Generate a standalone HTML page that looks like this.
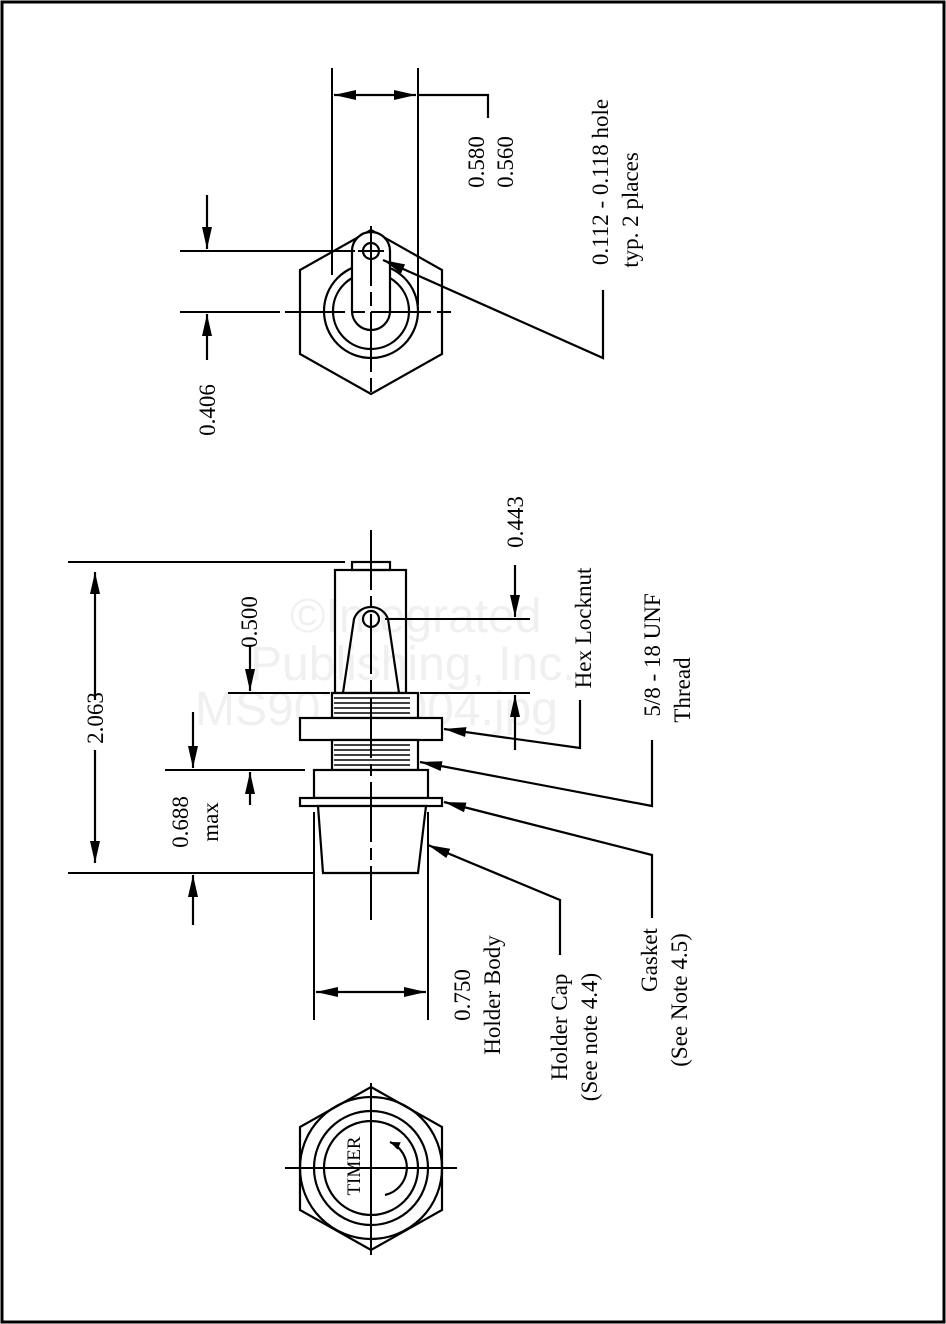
<!DOCTYPE html>
<html><head><style>
html,body{margin:0;padding:0;background:#fff;}
svg{display:block;}
text{font-family:"Liberation Serif",serif;font-size:23px;fill:#000;}
text.wm{font-family:"Liberation Sans",sans-serif;font-size:48px;fill:#f0f0f0;}
</style></head><body>
<svg width="946" height="1324" viewBox="0 0 946 1324" xmlns="http://www.w3.org/2000/svg">
<defs>
<marker id="a" markerWidth="10" markerHeight="8" refX="10" refY="4" orient="auto" markerUnits="userSpaceOnUse">
<path d="M0,0 L10,4 L0,8 z" fill="#000"/></marker>
<marker id="b" markerWidth="22" markerHeight="10" refX="22" refY="5" orient="auto" markerUnits="userSpaceOnUse">
<path d="M0,0 L22,5 L0,10 z" fill="#000"/></marker>
</defs>
<rect x="2" y="2" width="942" height="1320" fill="none" stroke="#000" stroke-width="3"/>
<!-- watermark -->
<text class="wm" x="290" y="632">©Integrated</text>
<text class="wm" x="250" y="680">Publishing, Inc.</text>
<text class="wm" x="195" y="725">MS90730004.jpg</text>
<g stroke="#000" stroke-width="2.2" fill="none">
<rect x="352" y="562" width="38" height="8"/>
<rect x="335" y="570" width="71" height="123"/>
<path d="M343,693 L354,619 A18,18 0 0 1 388,619 L399,693"/>
<circle cx="371" cy="619" r="8"/>
<rect x="332" y="693" width="86" height="25" fill="#fff"/>
<rect x="300" y="718" width="142" height="22" fill="#fff"/>
<rect x="332" y="740" width="86" height="30" fill="#fff"/>
<rect x="314" y="770" width="114" height="28" fill="#fff"/>
<rect x="300" y="798" width="142" height="8" fill="#fff"/>
<path d="M318,806 L426,806 L418,873 L323,873 Z" fill="#fff"/>
</g>
<g stroke="#000" stroke-width="1.5">
<path d="M334,698H410M334,703H410M334,708H410M334,713H410M334,745H410M334,750H410M334,755H410M334,760H410M334,765H410"/>
</g>
<g stroke="#000" stroke-width="2" fill="none">
<path d="M371,530V920" stroke-dasharray="60,6,12,6"/>
<path d="M314,812V1020M428,812V1020"/>
<path d="M68,562H345M68,873H315M228,693H330M165,770H305M160,873H300M385,619H530M420,693H530"/>
</g>
<g stroke="#000" stroke-width="2.2" fill="none">
<path d="M95,700V572" marker-end="url(#b)"/><path d="M95,750V863" marker-end="url(#b)"/>
<path d="M250,645V691" marker-end="url(#b)"/><path d="M250,805V772" marker-end="url(#b)"/>
<path d="M193,712V768" marker-end="url(#b)"/><path d="M193,925V875" marker-end="url(#b)"/>
<path d="M515,565V617" marker-end="url(#b)"/><path d="M515,750V695" marker-end="url(#b)"/>
<path d="M371,992H316" marker-end="url(#b)"/><path d="M371,992H426" marker-end="url(#b)"/>
<path d="M580,700V748L444,729" marker-end="url(#b)"/>
<path d="M652,740V806L420,762" marker-end="url(#b)"/>
<path d="M652,918V855L444,802" marker-end="url(#b)"/>
<path d="M560,955V900L428,845" marker-end="url(#b)"/>
</g>
<!-- top view -->
<g stroke="#000" stroke-width="2.2" fill="none">
<path d="M371,230L442,270V354L371,394L300,354V270Z"/>
<circle cx="371" cy="311" r="47"/><circle cx="371" cy="311" r="38"/>
<rect x="352" y="232" width="38" height="98" rx="19" fill="#fff"/>
<circle cx="371" cy="251" r="8"/>
</g>
<g stroke="#000" stroke-width="2" fill="none">
<path d="M285,312H457M371,226V396M358,251H384" stroke-dasharray="60,6,14,6"/>
<path d="M332,68V275M418,68V305M180,251H355M180,312H280"/>
</g>
<g stroke="#000" stroke-width="2.2" fill="none">
<path d="M375,95H334" marker-end="url(#b)"/><path d="M375,95H416" marker-end="url(#b)"/>
<path d="M418,95H488V118"/>
<path d="M207,195V249" marker-end="url(#b)"/><path d="M207,360V314" marker-end="url(#b)"/>
<path d="M603,290V358L383,260" marker-end="url(#b)"/>
</g>
<!-- bottom view -->
<g stroke="#000" stroke-width="2.2" fill="none">
<path d="M371,1087L442,1127V1210L371,1250L300,1210V1127Z"/>
<circle cx="371" cy="1168" r="71"/><circle cx="371" cy="1168" r="57"/><circle cx="371" cy="1168" r="47"/>
<path d="M385,1195A28,28 0 0 0 390,1142" marker-end="url(#a)"/>
</g>
<g stroke="#000" stroke-width="2" fill="none">
<path d="M285,1168H457M371,1083V1255"/>
</g>
<g text-anchor="middle">
<text transform="translate(103,718) rotate(-90)">2.063</text>
<text transform="translate(257,622) rotate(-90)">0.500</text>
<text transform="translate(188,822) rotate(-90)">0.688</text>
<text transform="translate(218,822) rotate(-90)">max</text>
<text transform="translate(523,522) rotate(-90)">0.443</text>
<text transform="translate(591,628) rotate(-90)">Hex Locknut</text>
<text transform="translate(660,655) rotate(-90)">5/8 - 18 UNF</text>
<text transform="translate(690,690) rotate(-90)">Thread</text>
<text transform="translate(470,995) rotate(-90)">0.750</text>
<text transform="translate(500,995) rotate(-90)">Holder Body</text>
<text transform="translate(567,1027) rotate(-90)">Holder Cap</text>
<text transform="translate(597,1037) rotate(-90)">(See note 4.4)</text>
<text transform="translate(657,960) rotate(-90)">Gasket</text>
<text transform="translate(687,1000) rotate(-90)">(See Note 4.5)</text>
<text transform="translate(484,162) rotate(-90)">0.580</text>
<text transform="translate(513,162) rotate(-90)">0.560</text>
<text transform="translate(215,410) rotate(-90)">0.406</text>
<text transform="translate(608,182) rotate(-90)">0.112 - 0.118 hole</text>
<text transform="translate(638,210) rotate(-90)">typ. 2  places</text>
<text transform="translate(360,1166) rotate(-90)" style="font-size:19px">TIMER</text>
</g>
</svg>
</body></html>
